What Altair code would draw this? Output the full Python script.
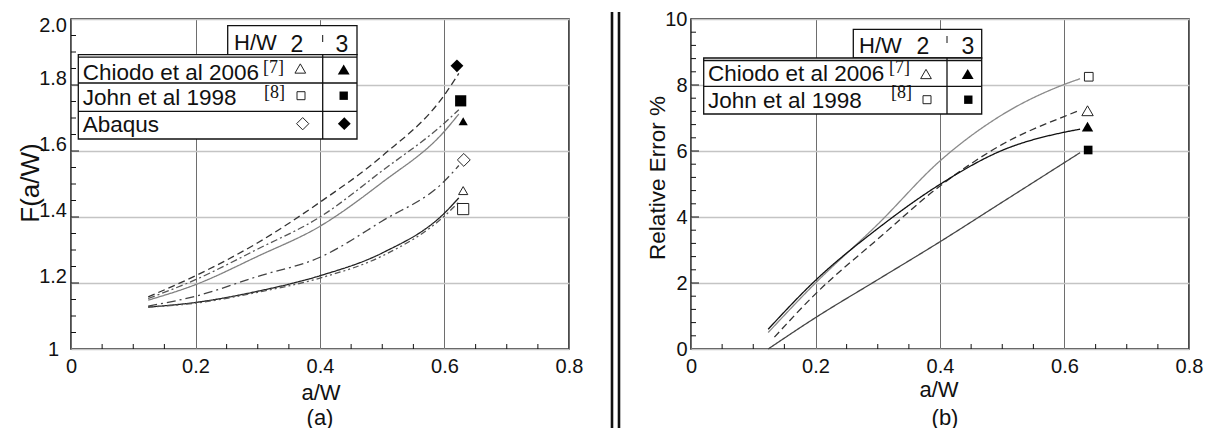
import altair as alt
import pandas as pd

# ---------------- panel (a): F(a/W) ----------------
a_vals_a = [0.124, 0.2, 0.3, 0.4, 0.5, 0.6, 0.623]
F_abaqus_3 = [1.158, 1.222, 1.322, 1.445, 1.585, 1.770, 1.835]
F_john_3 = [1.153, 1.210, 1.303, 1.400, 1.540, 1.685, 1.725]
F_chiodo_3 = [1.148, 1.195, 1.281, 1.372, 1.505, 1.660, 1.712]
F_abaqus_2 = [1.130, 1.160, 1.220, 1.278, 1.388, 1.509, 1.556]
F_chiodo_2 = [1.127, 1.141, 1.175, 1.222, 1.291, 1.412, 1.458]
F_john_2 = [1.127, 1.139, 1.172, 1.215, 1.282, 1.403, 1.445]

mk_a_names = ["Abaqus 3", "John 3", "Chiodo 3", "Abaqus 2", "Chiodo 2", "John 2"]
mk_a_x = [0.620, 0.626, 0.630, 0.631, 0.630, 0.630]
mk_a_y = [1.858, 1.752, 1.690, 1.573, 1.480, 1.424]
mk_a_shape = ["diamond", "square", "triangle-up", "diamond", "triangle-up", "square"]
mk_a_filled = [True, True, True, False, False, False]

ytick_a_vals = [1.0, 1.2, 1.4, 1.6, 1.8, 2.0]
ytick_a_text = ["1", "1.2", "1.4", "1.6", "1.8", "2.0"]

# ---------------- panel (b): Relative Error % ----------------
a_vals_b = [0.124, 0.2, 0.3, 0.4, 0.5, 0.6, 0.625]
a_vals_b_c2 = [0.134, 0.2, 0.3, 0.4, 0.5, 0.6, 0.623]
E_john_2 = [0.50, 2.00, 3.78, 5.70, 7.10, 8.02, 8.19]
E_chiodo_2 = [0.36, 1.67, 3.33, 4.94, 6.20, 7.05, 7.22]
E_chiodo_3 = [0.60, 2.08, 3.65, 4.99, 6.02, 6.57, 6.66]
E_john_3 = [0.00, 0.95, 2.10, 3.25, 4.45, 5.65, 5.95]

mk_b_names = ["John 2", "Chiodo 2", "Chiodo 3", "John 3"]
mk_b_x = [0.639, 0.637, 0.637, 0.638]
mk_b_y = [8.25, 7.22, 6.74, 6.03]
mk_b_shape = ["square", "triangle-up", "triangle-up", "square"]
mk_b_filled = [False, False, True, True]

# ---------------- tables ----------------
def long(pairs):
    rows = []
    for name, xs, ys in pairs:
        for i, (x, y) in enumerate(zip(xs, ys)):
            rows.append({"series": name, "a": x, "v": y, "o": i})
    return pd.DataFrame(rows)

curves_a = long([
    ("Abaqus 3", a_vals_a, F_abaqus_3), ("John 3", a_vals_a, F_john_3),
    ("Chiodo 3", a_vals_a, F_chiodo_3), ("Abaqus 2", a_vals_a, F_abaqus_2),
    ("Chiodo 2", a_vals_a, F_chiodo_2), ("John 2", a_vals_a, F_john_2),
])
curves_b = long([
    ("John 2", a_vals_b, E_john_2), ("Chiodo 2", a_vals_b_c2, E_chiodo_2),
    ("Chiodo 3", a_vals_b, E_chiodo_3), ("John 3", a_vals_b, E_john_3),
])
marks_a = pd.DataFrame({"series": mk_a_names, "a": mk_a_x, "v": mk_a_y,
                        "shape": mk_a_shape, "filled": mk_a_filled})
marks_b = pd.DataFrame({"series": mk_b_names, "a": mk_b_x, "v": mk_b_y,
                        "shape": mk_b_shape, "filled": mk_b_filled})
ylabels_a = pd.DataFrame({"t": ytick_a_vals, "lab": ytick_a_text})

# ---------------- styles ----------------
SANS = "Liberation Sans, Arial, Helvetica, sans-serif"
SERIF = "Liberation Serif, Times New Roman, serif"
W, H = 498, 330
INK = "#111111"

style_a_dom = ["Abaqus 3", "John 3", "Chiodo 3", "Abaqus 2", "Chiodo 2", "John 2"]
style_a_col = ["#333333", "#555555", "#808080", "#444444", "#222222", "#555555"]
style_a_dash = [[7, 4], [7, 3, 2, 3], [1, 0], [9, 4, 2, 4], [1, 0], [6, 3, 2, 3, 2, 3]]
style_b_dom = ["John 2", "Chiodo 2", "Chiodo 3", "John 3"]
style_b_col = ["#8a8a8a", "#333333", "#111111", "#444444"]
style_b_dash = [[1, 0], [7, 4], [1, 0], [1, 0]]

one = pd.DataFrame({"k": [0]})


def txt(s, x, y, size=22.5, font=SANS, align="left", baseline="alphabetic", angle=0, color=INK):
    kw = dict(text=s, align=align, baseline=baseline, fontSize=size, font=font, color=color)
    if angle:
        kw["angle"] = angle
    return alt.Chart(one).mark_text(**kw).encode(x=alt.value(x), y=alt.value(y))


def rule(x1, y1, x2, y2, color=INK, w=1.3):
    return alt.Chart(one).mark_rule(color=color, strokeWidth=w).encode(
        x=alt.value(x1), y=alt.value(y1), x2=alt.value(x2), y2=alt.value(y2))


def box(x1, y1, x2, y2):
    return alt.Chart(one).mark_rect(fill="white", stroke=INK, strokeWidth=1.3).encode(
        x=alt.value(x1), y=alt.value(y1), x2=alt.value(x2), y2=alt.value(y2))


def sym(shape, x, y, filled, size):
    if filled:
        m = alt.Chart(one).mark_point(shape=shape, filled=True, color="#000000", size=size, opacity=1)
    else:
        m = alt.Chart(one).mark_point(shape=shape, filled=False, color="#222222",
                                      strokeWidth=1, size=size, opacity=1)
    return m.encode(x=alt.value(x), y=alt.value(y))


def panel(curves, marks, dom, cols, dashes, ydom, yvals, ylab_expr, show_ylabels,
          ymajor, yminor, size_map):
    xscale = alt.Scale(domain=[0, 0.8], nice=False, zero=False)
    yscale = alt.Scale(domain=ydom, nice=False, zero=False)
    xaxis = alt.Axis(values=[0, 0.2, 0.4, 0.6, 0.8],
                     labelExpr="datum.value == 0 ? '0' : format(datum.value, '.1f')",
                     title=None, ticks=False, domain=False, grid=True,
                     gridColor="#6e6e6e", gridWidth=1, labelFontSize=20, labelFont=SANS,
                     labelColor=INK, labelPadding=7, labelFlush=False, labelOverlap=False)
    yaxis = alt.Axis(values=yvals, labelExpr=ylab_expr, title=None, ticks=False,
                     domain=False, grid=True, gridColor="#c4c4c4", gridWidth=1.5,
                     labels=show_ylabels,
                     labelFontSize=20, labelFont=SANS, labelColor=INK, labelPadding=4,
                     labelFlush=False, labelOverlap=False)
    X = lambda f: alt.X(f, type="quantitative", scale=xscale, axis=xaxis)
    Y = lambda f: alt.Y(f, type="quantitative", scale=yscale, axis=yaxis)

    lines = alt.Chart(curves).mark_line(interpolate="monotone", strokeWidth=1.3).encode(
        x=X("a"), y=Y("v"), order="o:Q",
        color=alt.Color("series:N", scale=alt.Scale(domain=dom, range=cols), legend=None),
        strokeDash=alt.StrokeDash("series:N", scale=alt.Scale(domain=dom, range=dashes), legend=None),
    )
    size_enc = alt.Size("shape:N", scale=alt.Scale(domain=list(size_map.keys()),
                                                   range=list(size_map.values())), legend=None)
    filled = alt.Chart(marks).transform_filter("datum.filled").mark_point(
        filled=True, color="#000000", opacity=1).encode(
        x=X("a"), y=Y("v"), shape=alt.Shape("shape:N", scale=None), size=size_enc)
    hollow = alt.Chart(marks).transform_filter("!datum.filled").mark_point(
        filled=False, color="#222222", strokeWidth=1, opacity=1).encode(
        x=X("a"), y=Y("v"), shape=alt.Shape("shape:N", scale=None), size=size_enc)

    xminor = pd.DataFrame({"t": [i * 0.05 for i in range(1, 16) if i % 4 != 0]})
    xt = alt.Chart(xminor).mark_rule(color=INK, strokeWidth=1).encode(
        x=X("t"), y=alt.value(H), y2=alt.value(H - 5))
    ymj = alt.Chart(pd.DataFrame({"t": ymajor})).mark_rule(color=INK, strokeWidth=1).encode(
        y=Y("t"), x=alt.value(0), x2=alt.value(8))
    ymn = alt.Chart(pd.DataFrame({"t": yminor})).mark_rule(color=INK, strokeWidth=1).encode(
        y=Y("t"), x=alt.value(0), x2=alt.value(5))
    return [lines, xt, ymj, ymn, filled, hollow], Y


# ---- left panel ----
yminor_a = [round(1 + 0.05 * i, 2) for i in range(1, 20) if i % 4 != 0]
left_layers, Ya = panel(
    curves_a, marks_a, style_a_dom, style_a_col, style_a_dash, [1, 2], ytick_a_vals,
    "''", False,
    [1.2, 1.4, 1.6, 1.8], yminor_a,
    {"diamond": 165, "square": 85, "triangle-up": 135},
)
ylab_base = alt.Chart(ylabels_a)
ylab_layers = [
    ylab_base.transform_filter("datum.t > 1.05 && datum.t < 1.95").mark_text(
        align="right", baseline="middle", fontSize=20, font=SANS, color=INK, dy=-6
    ).encode(y=Ya("t"), x=alt.value(-4), text="lab:N"),
    ylab_base.transform_filter("datum.t >= 1.95").mark_text(
        align="right", baseline="middle", fontSize=20, font=SANS, color=INK, dy=7
    ).encode(y=Ya("t"), x=alt.value(-4), text="lab:N"),
    ylab_base.transform_filter("datum.t <= 1.05").mark_text(
        align="right", baseline="middle", fontSize=20, font=SANS, color=INK, dy=1
    ).encode(y=Ya("t"), x=alt.value(-12), text="lab:N"),
]
legend_a = [
    box(156.7, 6.7, 286, 35.7),
    box(7.3, 35.7, 286, 120),
    rule(7.3, 38.2, 286, 38.2),
    rule(7.3, 64, 286, 64),
    rule(7.3, 92.3, 286, 92.3),
    rule(251.7, 35.7, 251.7, 120),
    rule(251.7, 16, 251.7, 23, w=1),
    txt("H/W", 163, 31, size=22),
    txt("2", 226, 33, size=23, align="center"),
    txt("3", 271, 33, size=23, align="center"),
    txt("Chiodo et al 2006", 11.7, 60.5),
    txt("[7]", 192, 54, size=18, font=SERIF),
    txt("John et al 1998", 11.7, 86),
    txt("[8]", 193, 79, size=18, font=SERIF),
    txt("Abaqus", 11.7, 113),
    sym("triangle-up", 229.3, 49.5, False, 115),
    sym("triangle-up", 272.7, 50.5, True, 140),
    sym("square", 230, 76.7, False, 64),
    sym("square", 272.7, 76.7, True, 70),
    sym("diamond", 231.7, 104.7, False, 150),
    sym("diamond", 273.3, 104.7, True, 165),
]
titles_a = [
    txt("F(a/W)", -40, 164, size=26, align="center", baseline="middle", angle=270),
    txt("a/W", 250, 374, size=22, align="center", baseline="middle"),
    txt("(a)", 249, 399, size=22, align="center", baseline="middle"),
    rule(541, -7, 541, 412, w=2.6),
    rule(548, -7, 548, 412, w=2.6),
]
left = alt.layer(*left_layers, *ylab_layers, *legend_a, *titles_a).properties(width=W, height=H)

# ---- right panel ----
yv_b = [0, 2, 4, 6, 8, 10]
yminor_b = [round(0.4 * i, 1) for i in range(1, 25) if i % 5 != 0]
right_layers, Yb = panel(
    curves_b, marks_b, style_b_dom, style_b_col, style_b_dash, [0, 10], yv_b,
    "format(datum.value, 'd')", True,
    [2, 4, 6, 8], yminor_b,
    {"square": 75, "triangle-up": 130},
)
legend_b = [
    box(162.3, 10.3, 290.7, 39),
    box(12.7, 39, 290.7, 95),
    rule(12.7, 41.5, 290.7, 41.5),
    rule(12.7, 67.3, 290.7, 67.3),
    rule(256, 39, 256, 95),
    rule(256, 17, 256, 24, w=1),
    txt("H/W", 168, 34, size=22),
    txt("2", 232, 35, size=23, align="center"),
    txt("3", 277, 35, size=23, align="center"),
    txt("Chiodo et al 2006", 17, 62),
    txt("[7]", 198, 54, size=18, font=SERIF),
    txt("John et al 1998", 17, 88.5),
    txt("[8]", 200, 79, size=18, font=SERIF),
    sym("triangle-up", 235, 55, False, 115),
    sym("triangle-up", 276.7, 55, True, 140),
    sym("square", 236, 80.7, False, 64),
    sym("square", 277.3, 80.7, True, 70),
]
titles_b = [
    txt("Relative Error %", -33, 159, size=22.5, align="center", baseline="middle", angle=270),
    txt("a/W", 248, 371, size=22, align="center", baseline="middle"),
    txt("(b)", 254, 399, size=22, align="center", baseline="middle"),
]
right = alt.layer(*right_layers, *legend_b, *titles_b).properties(width=W, height=H)

chart = alt.hconcat(left, right, spacing=122, bounds="flush").resolve_scale(
    color="independent", strokeDash="independent", size="independent",
    x="independent", y="independent",
).properties(
    padding={"left": 9, "right": 0, "top": 0, "bottom": 0},
    background="white",
).configure_view(stroke=INK, strokeWidth=1.5)

chart.save("out.html", embed_options={"renderer": "svg", "actions": False})
